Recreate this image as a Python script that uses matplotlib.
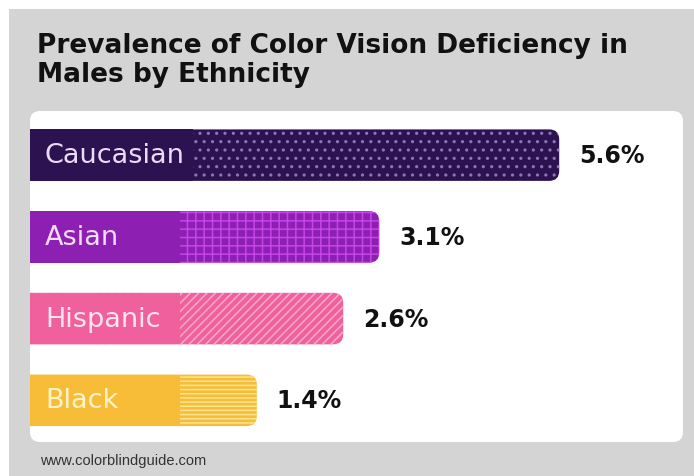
from matplotlib import pyplot as plt
from matplotlib.patches import FancyBboxPatch, Rectangle
import matplotlib as mpl

groups = ["Caucasian", "Asian", "Hispanic", "Black"]
prevalence = [5.6, 3.1, 2.6, 1.4]
value_labels = ["5.6%", "3.1%", "2.6%", "1.4%"]

base_colors = ["#2c1250", "#8d1fb3", "#f0609c", "#f7bd39"]
hatch_colors = ["#8f74bb", "#c644e8", "#f9aacb", "#fde490"]
text_colors = ["#eadcf5", "#f3dcf8", "#fde4ee", "#fff4c8"]
hatches = ["..", "++", "////", "----"]

title = "Prevalence of Color Vision Deficiency in\nMales by Ethnicity"
source = "www.colorblindguide.com"

W, H = 694, 477
mpl.rcParams["hatch.linewidth"] = 1.1

fig = plt.figure(figsize=(W / 100, H / 100), dpi=100)
fig.patch.set_facecolor("white")

# background layer in pixel units
bg = fig.add_axes([0, 0, 1, 1])
bg.set_xlim(0, W)
bg.set_ylim(H, 0)
bg.axis("off")
bg.add_patch(Rectangle((9, 10), W - 9, H - 10, color="#d4d4d4", lw=0))
bg.add_patch(FancyBboxPatch((30, 112), 653, 331,
                            boxstyle="round,pad=0,rounding_size=10",
                            fc="white", ec="none"))
bg.text(37, 33, title, fontsize=19, fontweight="bold", color="#111111",
        va="top", ha="left", linespacing=1.15)
bg.text(40, 461, source, fontsize=10.5, color="#333333",
        family="Liberation Sans", va="center", ha="left")

# bar area sits on the white panel
px_x, px_y = 653, 331
ax = fig.add_axes([30 / W, (H - 443) / H, px_x / W, px_y / H])
x0 = -1.75
x1 = x0 + px_x / 72
ax.set_xlim(x0, x1)
ax.set_ylim(3.51, -0.54)
ax.axis("off")

ux = px_x / (x1 - x0)          # pixels per x unit
uy = px_y / (3.51 + 0.54)      # pixels per y unit
r = 10 / ux
bar_h = 0.63

fig.canvas.draw()
renderer = fig.canvas.get_renderer()

for i, (name, val, lab) in enumerate(zip(groups, prevalence, value_labels)):
    left = x0 - 0.3
    patch = FancyBboxPatch((left, i - bar_h / 2), val - left, bar_h,
                           boxstyle=f"round,pad=0,rounding_size={r}",
                           mutation_aspect=ux / uy,
                           fc=base_colors[i], ec=hatch_colors[i], lw=0,
                           hatch=hatches[i])
    ax.add_patch(patch)

    txt = ax.text(x0 + 15 / ux, i, name, fontsize=19.5, color=text_colors[i],
                  va="center", ha="left", zorder=4)
    bb = txt.get_window_extent(renderer=renderer)
    end = ax.transData.inverted().transform((bb.x1, 0))[0]
    split = max(end + 8 / ux, x0 + 150 / ux)
    split = min(split, val - 30 / ux)
    ax.barh(i, split - left, left=left, height=bar_h, color=base_colors[i],
            lw=0, zorder=3)

    ax.text(val + 20 / ux, i, lab, fontsize=17, fontweight="bold",
            color="#111111", va="center", ha="left")

fig.savefig("out.png", dpi=100)
